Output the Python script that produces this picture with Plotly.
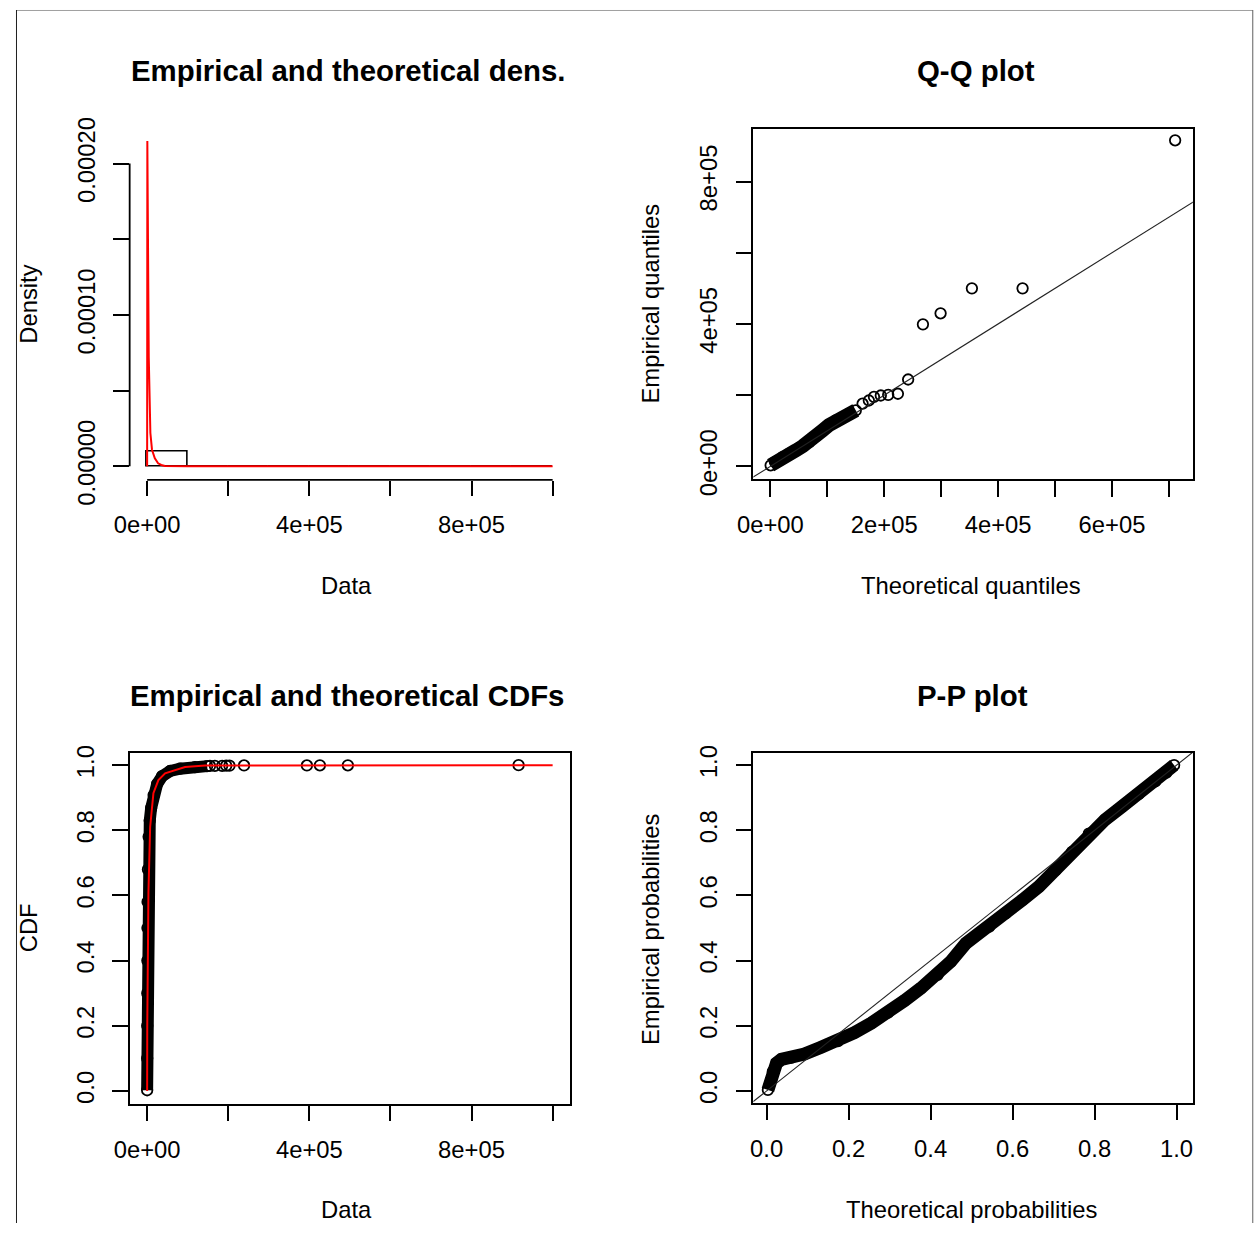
import plotly.graph_objects as go

W, H = 1258, 1249
FONT = "Liberation Sans, Arial, sans-serif"

# ---------------- data ----------------
# Panel 1: histogram (density scale) + fitted density curve
hist_left = [0, 100000, 200000, 300000, 400000, 500000, 600000, 700000, 800000, 900000]
hist_width = 100000
hist_density = [9.9e-6, 1.1e-7, 3e-8, 3e-8, 2e-8, 1e-8, 0.0, 0.0, 0.0, 1e-8]
dens_x = [0, 500, 4000, 8000, 12000, 19000, 27000, 35000, 44000, 60000, 100000, 1000000]
dens_y = [0.0, 2.15e-4, 7.2e-5, 2.2e-5, 1.1e-5, 5.3e-6, 2.0e-6, 9e-7, 3e-7, 1e-7, 2e-8, 0.0]

# Panel 2: Q-Q plot (theoretical vs empirical quantiles)
qq_theo = [500, 8000, 21500, 33000, 45000, 57000, 68300, 80000, 91600, 103000, 115000,
           127000, 138000, 150000, 162000, 173000, 182000, 194000, 207000, 224000,
           242000, 268000, 299000, 354000, 443000, 711000]
qq_emp = [3000, 12000, 26100, 36000, 45000, 57000, 68300, 84000, 101000, 116000, 129000,
          138000, 148000, 157000, 176000, 185000, 195000, 199000, 201000, 204000,
          244000, 399000, 430000, 500000, 500000, 916000]
qq_dense_n = 14  # first points form the dense band

# Panel 3: empirical CDF + theoretical CDF
cdf_x = [0, 100, 250, 400, 600, 800, 1100, 2000, 3700, 6500, 9850, 16000, 24600,
         36900, 56600, 81300, 118000, 148000]
cdf_p = [0.002, 0.1, 0.2, 0.3, 0.4, 0.5, 0.58, 0.68, 0.78, 0.83, 0.868, 0.908, 0.942,
         0.966, 0.982, 0.989, 0.994, 0.997]
cdf_out_x = [155000, 167000, 185000, 195000, 203000, 239000, 394000, 426000, 495000, 916000]
cdf_out_p = [0.9975, 0.998, 0.998, 0.9985, 0.9985, 0.999, 0.999, 0.9995, 0.9995, 1.0]
cdf_theo_x = [0, 300, 3200, 7400, 15500, 27800, 44300, 69000, 93600, 143000, 1000000]
cdf_theo_p = [0.0, 0.2, 0.61, 0.81, 0.914, 0.954, 0.975, 0.984, 0.994, 0.999, 1.0]

# Panel 4: P-P plot
pp_theo = [0.003, 0.011, 0.015, 0.024, 0.036, 0.060, 0.092, 0.133, 0.174, 0.214, 0.255,
           0.296, 0.336, 0.376, 0.417, 0.449, 0.486, 0.543, 0.583, 0.624, 0.664, 0.705,
           0.745, 0.786, 0.826, 0.867, 0.908, 0.948, 0.975, 0.994]
pp_emp = [0.003, 0.034, 0.059, 0.085, 0.097, 0.102, 0.113, 0.134, 0.153, 0.179, 0.208,
          0.240, 0.277, 0.315, 0.356, 0.397, 0.453, 0.504, 0.545, 0.586, 0.627, 0.678,
          0.734, 0.790, 0.833, 0.873, 0.912, 0.950, 0.977, 1.0]

# tick values / labels
p1_xt = [0, 200000, 400000, 600000, 800000, 1000000]
p1_xl = ["0e+00", "", "4e+05", "", "8e+05", ""]
p1_yt = [0, 5e-5, 1e-4, 1.5e-4, 2e-4]
p1_yl = ["0.00000", "", "0.00010", "", "0.00020"]
p2_xt = [0, 100000, 200000, 300000, 400000, 500000, 600000, 700000]
p2_xl = ["0e+00", "", "2e+05", "", "4e+05", "", "6e+05", ""]
p2_yt = [0, 200000, 400000, 600000, 800000]
p2_yl = ["0e+00", "", "4e+05", "", "8e+05"]
prob_t = [0, 0.2, 0.4, 0.6, 0.8, 1.0]
prob_l = ["0.0", "0.2", "0.4", "0.6", "0.8", "1.0"]

# ---------------- layout helpers ----------------
# target positions are given in picture pixels; the photographed page maps
# page px -> picture px as X = 15.7 + 0.9885 p, Y = 9.3 + 0.9719 p
SX, OXI = 0.9885, 15.7
SY, OYI = 0.9719, 9.3

def pgx(X):
    return (X - OXI) / SX

def pgy(Y):
    return (Y - OYI) / SY

def fx(X):
    return pgx(X) / W

def fy(Y):
    return 1 - pgy(Y) / H

def dx(a, b):
    return [fx(a), fx(b)]

def dy(top, bot):
    return [fy(bot), fy(top)]

def rng(e0, e1, pa, va, pb, vb):
    s = (vb - va) / (pb - pa)
    return [va + (e0 - pa) * s, va + (e1 - pa) * s]

TICKF = dict(family=FONT, size=23.8, color="black")

def axis(domain, r, tv, tt, anchor, box, angle=0, standoff=8):
    return dict(domain=domain, range=r, anchor=anchor, tickmode="array", tickvals=tv,
                ticktext=tt, ticks="outside", ticklen=15.5, tickwidth=1.8, tickcolor="black",
                showgrid=False, zeroline=False, showline=box, mirror=box,
                linecolor="black", linewidth=1.8, tickangle=angle,
                ticklabelstandoff=standoff, tickfont=TICKF, fixedrange=True)

MK = dict(symbol="circle-open", size=10.5, color="black", line=dict(width=1.8, color="black"))

fig = go.Figure()

# Panel 1
fig.add_trace(go.Bar(x=[l + hist_width / 2 for l in hist_left], y=hist_density,
                     width=[hist_width] * len(hist_left),
                     marker=dict(color="rgba(0,0,0,0)", line=dict(color="black", width=1.6)),
                     xaxis="x", yaxis="y", showlegend=False))
fig.add_trace(go.Scatter(x=dens_x, y=dens_y, mode="lines", line=dict(color="#ff0000", width=2),
                         xaxis="x", yaxis="y", showlegend=False))

# Panel 2
fig.add_trace(go.Scatter(x=qq_theo[:qq_dense_n], y=qq_emp[:qq_dense_n], mode="lines",
                         line=dict(color="black", width=14), xaxis="x2", yaxis="y2",
                         showlegend=False))
fig.add_trace(go.Scatter(x=qq_theo, y=qq_emp, mode="markers", marker=MK,
                         xaxis="x2", yaxis="y2", showlegend=False))
fig.add_trace(go.Scatter(x=[-100000, 1000000], y=[-100000, 1000000], mode="lines",
                         line=dict(color="#222222", width=1.1), xaxis="x2", yaxis="y2",
                         showlegend=False))

# Panel 3
fig.add_trace(go.Scatter(x=cdf_x, y=cdf_p, mode="lines", line=dict(color="black", width=12),
                         xaxis="x3", yaxis="y3", showlegend=False))
fig.add_trace(go.Scatter(x=cdf_x + cdf_out_x, y=cdf_p + cdf_out_p, mode="markers", marker=MK,
                         xaxis="x3", yaxis="y3", showlegend=False))
fig.add_trace(go.Scatter(x=cdf_theo_x, y=cdf_theo_p, mode="lines",
                         line=dict(color="#ff0000", width=2), xaxis="x3", yaxis="y3",
                         showlegend=False))

# Panel 4
fig.add_trace(go.Scatter(x=pp_theo, y=pp_emp, mode="lines+markers",
                         line=dict(color="black", width=13), marker=MK,
                         xaxis="x4", yaxis="y4", showlegend=False))
fig.add_trace(go.Scatter(x=[-0.1, 1.1], y=[-0.1, 1.1], mode="lines",
                         line=dict(color="#222222", width=1.1), xaxis="x4", yaxis="y4",
                         showlegend=False))

# geometry (picture pixels)
L1 = (129.5, 570.0); T1 = (127.0, 479.5)
L2 = (754.0, 1194.0); T2 = (128.3, 479.0)
T3 = (752.7, 1104.0)
T4 = (752.7, 1102.7)

fig.update_layout(
    width=W, height=H, margin=dict(l=0, r=0, t=0, b=0),
    paper_bgcolor="white", plot_bgcolor="white", showlegend=False, bargap=0,
    xaxis=axis(dx(*L1), rng(L1[0], L1[1], 147, 0, 553, 1e6), p1_xt, p1_xl, "y", False),
    yaxis=axis(dy(*T1), rng(T1[1], T1[0], 466, 0, 163, 2e-4), p1_yt, p1_yl, "x", False, -90, 9),
    xaxis2=axis(dx(*L2), rng(L2[0], L2[1], 771, 0, 1170, 7e5), p2_xt, p2_xl, "y2", True),
    yaxis2=axis(dy(*T2), rng(T2[1], T2[0], 466, 0, 181, 8e5), p2_yt, p2_yl, "x2", True, -90, 9),
    xaxis3=axis(dx(*L1), rng(L1[0], L1[1], 147, 0, 553, 1e6), p1_xt, p1_xl, "y3", True),
    yaxis3=axis(dy(*T3), rng(T3[1], T3[0], 1091, 0, 765, 1), prob_t, prob_l, "x3", True, -90, 9),
    xaxis4=axis(dx(*L2), rng(L2[0], L2[1], 767.3, 0, 1177.7, 1), prob_t, prob_l, "y4", True),
    yaxis4=axis(dy(*T4), rng(T4[1], T4[0], 1091, 0, 765, 1), prob_t, prob_l, "x4", True, -90, 9),
)

# R-style axis lines for the unboxed density panel (span first..last tick)
fig.add_shape(type="line", xref="x", yref="y domain", x0=p1_xt[0], x1=p1_xt[-1], y0=0, y1=0,
              line=dict(color="black", width=1.8))
fig.add_shape(type="line", xref="x domain", yref="y", x0=0, x1=0, y0=p1_yt[0], y1=p1_yt[-1],
              line=dict(color="black", width=1.8))

# outer frame of the picture (as close to its place as the page allows)
fig.add_shape(type="line", xref="paper", yref="paper", x0=0, x1=fx(1254),
              y0=1 - 0.5 / H, y1=1 - 0.5 / H, line=dict(color="#a0a0a0", width=1))
fig.add_shape(type="line", xref="paper", yref="paper", x0=0.5 / W, x1=0.5 / W,
              y0=0, y1=1, line=dict(color="#202020", width=1))
fig.add_shape(type="line", xref="paper", yref="paper", x0=fx(1254), x1=fx(1254),
              y0=0, y1=1, line=dict(color="#606060", width=1))

def ann(text, x, y, size, angle=0, bold=False):
    fig.add_annotation(text=f"<b>{text}</b>" if bold else text, xref="paper", yref="paper",
                       x=fx(x), y=fy(y), xanchor="center", yanchor="middle",
                       showarrow=False, textangle=angle,
                       font=dict(family=FONT, size=size, color="black"))

ann("Empirical and theoretical dens.", 348.5, 70, 29.4, bold=True)
ann("Q-Q plot", 976.5, 70, 29.4, bold=True)
ann("Empirical and theoretical CDFs", 347, 695, 29.4, bold=True)
ann("P-P plot", 973, 695, 29.4, bold=True)
ann("Data", 347, 585, 23.8)
ann("Theoretical quantiles", 971.5, 585, 23.8)
ann("Data", 347, 1210, 23.8)
ann("Theoretical probabilities", 972, 1210, 23.8)
ann("Density", 28, 304, 23.8, angle=-90)
ann("Empirical quantiles", 651, 303.5, 23.8, angle=-90)
ann("CDF", 28, 928, 23.8, angle=-90)
ann("Empirical probabilities", 651, 929.5, 23.8, angle=-90)

fig.write_html("out.html", config={"displayModeBar": False},
               post_script="document.body.style.margin='0';document.body.style.overflow='hidden';")
